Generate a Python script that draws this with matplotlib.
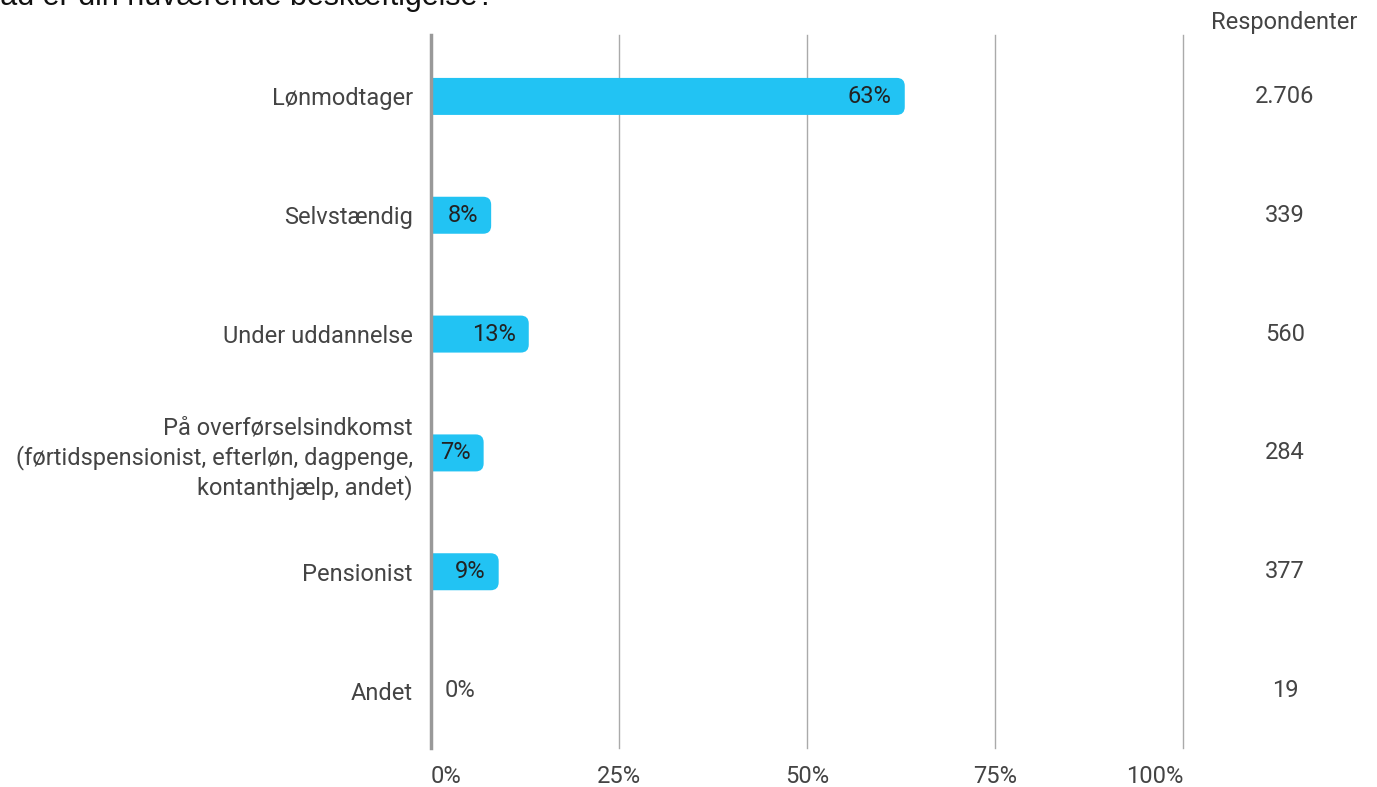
import matplotlib.pyplot as plt
from matplotlib.patches import FancyBboxPatch
from matplotlib.transforms import blended_transform_factory, ScaledTranslation

categories = ["Lønmodtager", "Selvstændig", "Under uddannelse",
              "På overførselsindkomst\n(førtidspensionist, efterløn, dagpenge,\nkontanthjælp, andet)",
              "Pensionist", "Andet"]
shares = [63, 8, 13, 7, 9, 0]
respondents = ["2.706", "339", "560", "284", "377", "19"]
xticks = [0, 25, 50, 75, 100]
xtick_labels = ["0%", "25%", "50%", "75%", "100%"]
title = "Hvad er din nuværende beskæftigelse?"

bar_col = "#22c3f3"
txt_col = "#444444"
fs = 17

plt.rcParams['font.family'] = ['Roboto', 'DejaVu Sans']

W, H = 1377, 787
fig = plt.figure(figsize=(W / 100, H / 100), dpi=100)
ax = fig.add_axes([431 / W, 1 - 748 / H, (1183 - 431) / W, (748 - 35) / H])

n = len(categories)
ypos = list(range(n))
# px -> data units, used for rounded corners and label offsets
px_x = 100 / (1183 - 431)
px_y = n / (748 - 35)
ax.set_xlim(0, 100)
ax.set_ylim(n - 0.5 - 2 * px_y, -0.5 - 2 * px_y)

bar_h = 37 * px_y
rad = 8 * px_x

for y, v in zip(ypos, shares):
    if v > 0:
        p = FancyBboxPatch((-3, y - bar_h / 2), v + 3, bar_h,
                           boxstyle=f"round,pad=0,rounding_size={rad}",
                           mutation_aspect=px_y / px_x,
                           fc=bar_col, ec="none", zorder=2)
        ax.add_patch(p)
        ax.text(v - 13 * px_x, y, f"{v}%", ha="right", va="center",
                fontsize=fs, color="#222222", zorder=3)
    else:
        ax.text(v + 14 * px_x, y, f"{v}%", ha="left", va="center",
                fontsize=fs, color=txt_col, zorder=3)

trans = blended_transform_factory(fig.transFigure, ax.transData)
for y, r in zip(ypos, respondents):
    ax.text(1285 / W, y, r, transform=trans, ha="center", va="center",
            fontsize=fs, color=txt_col)

fig.text(1284 / W, 1 - 22 / H, "Respondenter", ha="center", va="center",
         fontsize=fs, color=txt_col)

ax.set_yticks(ypos)
ax.set_yticklabels(categories, fontsize=fs, color=txt_col, ha="right",
                   multialignment="right", linespacing=1.28)
# the three-line label sits a touch high in the source
multi = ax.get_yticklabels()[3]
multi.set_transform(multi.get_transform() + ScaledTranslation(0, 3 / 100, fig.dpi_scale_trans))

ax.set_xticks(xticks)
ax.set_xticklabels(xtick_labels, fontsize=fs, color=txt_col)
lbls = ax.get_xticklabels()
lbls[0].set_ha("left")
lbls[-1].set_ha("right")
ax.tick_params(axis="both", length=0)
ax.tick_params(axis="y", pad=13)
ax.tick_params(axis="x", pad=12)

ax.grid(axis="x", color="#aaaaaa", linewidth=1, zorder=0)
for gl in ax.get_xgridlines():
    gl.set_clip_on(False)
ax.set_axisbelow(True)
for s in ["top", "right", "bottom"]:
    ax.spines[s].set_visible(False)
ax.spines["left"].set_color("#999999")
ax.spines["left"].set_linewidth(2.5)
ax.spines["left"].set_zorder(4)

# title sits partly outside the canvas, as in the source screenshot
fig.text(-37 / W, 1 - 5 / H, title, ha="left", va="baseline",
         fontsize=22, family=["Liberation Sans", "DejaVu Sans"], color="#111111")

fig.savefig("out.png", dpi=100)
